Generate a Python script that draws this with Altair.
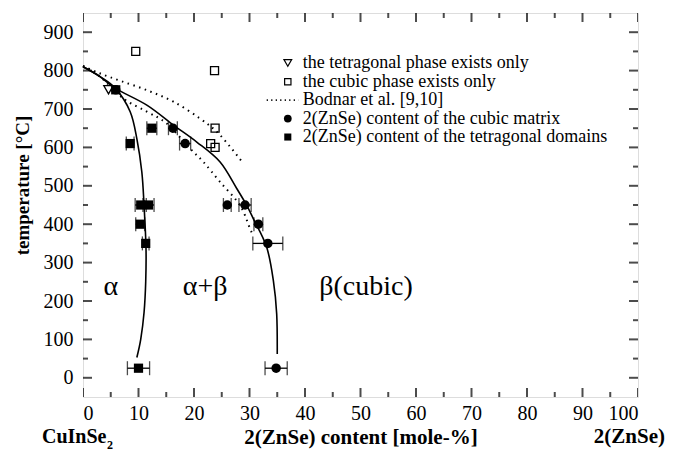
import altair as alt
import pandas as pd

FONT = "'Liberation Serif', 'Times New Roman', 'DejaVu Serif', serif"

# 2(ZnSe) content of the tetragonal domains (filled squares)
tet_x = [5.9, 12.4, 8.5, 10.4, 11.8, 10.3, 11.3, 10.0]
tet_T = [750, 650, 610, 450, 450, 400, 350, 25]
tet_err = [0.0, 0.9, 0.7, 1.0, 1.0, 0.8, 0.6, 2.0]

# 2(ZnSe) content of the cubic matrix (filled circles)
cub_x = [5.9, 16.2, 18.4, 26.0, 29.2, 31.6, 33.3, 34.8]
cub_T = [750, 650, 610, 450, 450, 400, 350, 25]
cub_err = [0.0, 0.8, 1.0, 0.7, 1.1, 0.8, 2.7, 2.0]

# cubic phase exists only (open squares)
cubonly_x = [9.5, 23.7, 23.8, 23.0, 23.8]
cubonly_T = [850, 800, 650, 610, 600]

# tetragonal phase exists only (open triangle)
tetonly_x = [4.6]
tetonly_T = [750]

# solid phase boundaries
inner_x = [0, 3, 5.9, 8.5, 9.7, 10.6, 11.0, 11.35, 11.3, 11.0, 10.4, 9.7]
inner_T = [810, 785, 753, 693, 623, 536, 449, 340, 250, 170, 100, 53]
outer_x = [0, 3, 5.9, 11.5, 16.3, 20.5, 24.7, 27.7, 29.5, 30.7, 33.1, 34.3, 34.9, 35.0]
outer_T = [810, 785, 753, 710, 658, 614, 562, 493, 449, 414, 340, 253, 166, 62]

# Bodnar et al. dotted boundaries
bod_up_x = [0, 3, 6.8, 11.5, 16.3, 21.1, 24.7, 28.9]
bod_up_T = [812, 793, 773, 749, 719, 675, 632, 558]
bod_lo_x = [0, 3, 7.3, 11.5, 15.1, 19.3, 21.7, 24.7, 28.3, 30.1, 30.7]
bod_lo_T = [812, 785, 727, 693, 662, 597, 562, 510, 449, 388, 371]

# region labels
reg_text = ["α", "α+β", "β(cubic)"]
reg_x = [5, 22, 51]
reg_T = [236, 236, 236]

# legend
leg_text = ["the tetragonal phase exists only", " the cubic phase exists only",
            "Bodnar et al. [9,10]", "2(ZnSe) content of the cubic matrix",
            "2(ZnSe) content of the tetragonal domains"]
leg_T = [820, 771, 723, 675, 627]
leg_sym_x = 36.9
leg_txt_x = 39.6
leg_line_x = [33.1, 38.8]

xt = list(range(0, 101, 5))
yt = list(range(0, 901, 50))

W, H = 555, 384
xs = alt.Scale(domain=[0, 100], nice=False, zero=False)
ys = alt.Scale(domain=[-50, 950], nice=False, zero=False)


def curve_df(xv, tv, name):
    return pd.DataFrame({"x": xv, "T": tv, "i": list(range(len(xv))), "c": name})


X = lambda f: alt.X(f, type="quantitative", scale=xs,
                    axis=alt.Axis(values=list(range(0, 101, 10)), ticks=False, domain=False, grid=False,
                                  labelFont=FONT, labelFontSize=20, labelPadding=6, labelColor="black",
                                  title="2(ZnSe) content [mole-%]", titleFont=FONT, titleFontSize=21,
                                  titleFontWeight="bold", titlePadding=3, titleColor="black"))
Y = lambda f: alt.Y(f, type="quantitative", scale=ys,
                    axis=alt.Axis(values=list(range(0, 901, 100)), ticks=False, domain=False, grid=False,
                                  labelFont=FONT, labelFontSize=20, labelPadding=10, labelColor="black",
                                  title="temperature [°C]", titleFont=FONT, titleFontSize=19,
                                  titleFontWeight="bold", titleColor="black", titleX=-51, titleY=172))

solid = pd.concat([curve_df(inner_x, inner_T, "inner"), curve_df(outer_x, outer_T, "outer")])
dotted = pd.concat([curve_df(bod_up_x, bod_up_T, "up"), curve_df(bod_lo_x, bod_lo_T, "lo")])

solid_l = alt.Chart(solid).mark_line(color="black", strokeWidth=1.6, interpolate="cardinal").encode(
    x=X("x"), y=Y("T"), detail="c:N", order="i:Q")
dotted_l = alt.Chart(dotted).mark_line(color="black", strokeWidth=2, strokeDash=[1.5, 4.5],
                                       interpolate="cardinal").encode(
    x=X("x"), y=Y("T"), detail="c:N", order="i:Q")

err = pd.concat([
    pd.DataFrame({"x": tet_x, "T": tet_T, "e": tet_err}),
    pd.DataFrame({"x": cub_x, "T": cub_T, "e": cub_err}),
])
err = err[err.e > 0]
eb = alt.Chart(err).transform_calculate(lo="datum.x - datum.e", hi="datum.x + datum.e")
err_rule = eb.mark_rule(color="black", strokeWidth=1.3).encode(x=X("lo:Q"), x2="hi:Q", y=Y("T"))
err_cap = eb.transform_fold(["lo", "hi"], as_=["k", "v"]).mark_tick(
    orient="vertical", size=14, thickness=1.3, color="black").encode(x=X("v:Q"), y=Y("T"))

sq = alt.Chart(pd.DataFrame({"x": tet_x, "T": tet_T})).mark_point(
    shape="square", filled=True, size=85, color="black", opacity=1).encode(x=X("x"), y=Y("T"))
ci = alt.Chart(pd.DataFrame({"x": cub_x, "T": cub_T})).mark_point(
    shape="circle", filled=True, size=90, color="black", opacity=1).encode(x=X("x"), y=Y("T"))
osq = alt.Chart(pd.DataFrame({"x": cubonly_x, "T": cubonly_T})).mark_point(
    shape="square", filled=False, size=64, color="black", strokeWidth=1.3, opacity=1).encode(x=X("x"), y=Y("T"))
otri = alt.Chart(pd.DataFrame({"x": tetonly_x, "T": tetonly_T})).mark_point(
    shape="triangle-down", filled=False, size=90, color="black", strokeWidth=1.3, opacity=1).encode(x=X("x"), y=Y("T"))

reg = alt.Chart(pd.DataFrame({"t": reg_text, "x": reg_x, "T": reg_T})).mark_text(
    font=FONT, fontSize=28, color="black", align="center", baseline="middle").encode(
    x=X("x"), y=Y("T"), text="t:N")

leg_df = pd.DataFrame({"t": leg_text, "T": leg_T, "x": leg_txt_x})
leg_txt = alt.Chart(leg_df).mark_text(font=FONT, fontSize=18, color="black", align="left",
                                      baseline="middle").encode(x=X("x"), y=Y("T"), text="t:N")
ls = lambda k: pd.DataFrame({"x": [leg_sym_x], "T": [leg_T[k]]})
leg_tri = alt.Chart(ls(0)).mark_point(shape="triangle-down", filled=False, size=60, color="black",
                                      strokeWidth=1.2, opacity=1).encode(x=X("x"), y=Y("T"))
leg_osq = alt.Chart(ls(1)).mark_point(shape="square", filled=False, size=40, color="black",
                                      strokeWidth=1.2, opacity=1).encode(x=X("x"), y=Y("T"))
leg_line = alt.Chart(pd.DataFrame({"x": leg_line_x, "T": [leg_T[2]] * 2})).mark_line(
    color="black", strokeWidth=1.6, strokeDash=[1.2, 3.3]).encode(x=X("x"), y=Y("T"))
leg_ci = alt.Chart(ls(3)).mark_point(shape="circle", filled=True, size=60, color="black",
                                     opacity=1).encode(x=X("x"), y=Y("T"))
leg_sq = alt.Chart(ls(4)).mark_point(shape="square", filled=True, size=50, color="black",
                                     opacity=1).encode(x=X("x"), y=Y("T"))

# inward ticks (drawn twice as long, centred on the frame, clipped to the plot)
xtd = pd.DataFrame({"v": xt, "len": [18 if v % 10 == 0 else 10 for v in xt]})
ytd = pd.DataFrame({"v": yt, "len": [18 if v % 100 == 0 else 10 for v in yt]})
tick_b = alt.Chart(xtd).mark_tick(orient="vertical", thickness=2, color="black", clip=True).encode(
    x=X("v"), y=alt.value(H), size=alt.Size("len:Q", scale=None))
tick_t = alt.Chart(xtd).mark_tick(orient="vertical", thickness=2, color="black", clip=True).encode(
    x=X("v"), y=alt.value(0), size=alt.Size("len:Q", scale=None))
tick_l = alt.Chart(ytd).mark_tick(orient="horizontal", thickness=2, color="black", clip=True).encode(
    y=Y("v"), x=alt.value(0), size=alt.Size("len:Q", scale=None))
tick_r = alt.Chart(ytd).mark_tick(orient="horizontal", thickness=2, color="black", clip=True).encode(
    y=Y("v"), x=alt.value(W), size=alt.Size("len:Q", scale=None))

ann_l = alt.Chart(pd.DataFrame({"t": ["CuInSe"]})).mark_text(
    font=FONT, fontSize=20, fontWeight="bold", color="black", align="left", baseline="middle").encode(
    text="t:N", x=alt.value(-41), y=alt.value(424))
ann_sub = alt.Chart(pd.DataFrame({"t": ["2"]})).mark_text(
    font=FONT, fontSize=12, fontWeight="bold", color="black", align="left", baseline="middle").encode(
    text="t:N", x=alt.value(24), y=alt.value(432))
ann_r = alt.Chart(pd.DataFrame({"t": ["2(ZnSe)"]})).mark_text(
    font=FONT, fontSize=21, fontWeight="bold", color="black", align="right", baseline="middle").encode(
    text="t:N", x=alt.value(582), y=alt.value(424))

chart = alt.layer(
    solid_l, dotted_l, err_rule, err_cap, sq, ci, osq, otri, reg,
    leg_txt, leg_tri, leg_osq, leg_line, leg_ci, leg_sq,
    tick_b, tick_t, tick_l, tick_r, ann_l, ann_sub, ann_r
).properties(
    width=W, height=H,
    autosize=alt.AutoSizeParams(type="none"),
    padding={"left": 75, "top": 5, "right": 28, "bottom": 58},
    background="white",
).configure_view(stroke="black", strokeWidth=2.5).configure(font=FONT)

chart.save("out.html", embed_options={"renderer": "svg", "actions": False})
